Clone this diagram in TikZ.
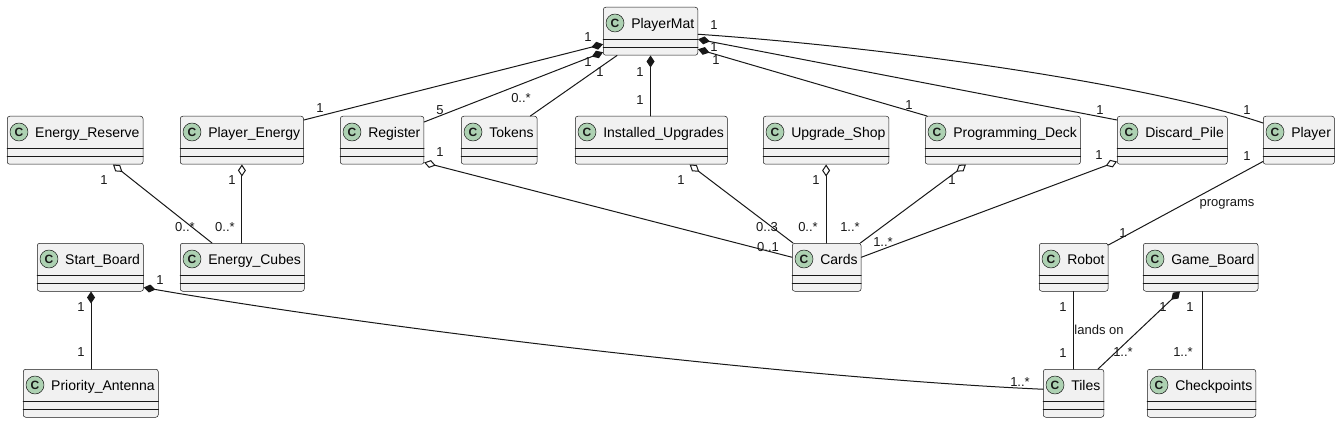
\documentclass[tikz,border=0pt]{standalone}
\usepackage{fontspec}
\setmainfont{Liberation Sans}
\usetikzlibrary{arrows.meta}
\definecolor{uququq}{rgb}{0.094,0.094,0.094}
\definecolor{wfwfwf}{rgb}{0.945,0.945,0.945}
\definecolor{aqdqbq}{rgb}{0.678,0.82,0.698}
\begin{document}
\begin{tikzpicture}[line cap=round,line join=round,x=1pt,y=-1pt,
	cls/.style={draw=uququq,line width=0.5pt,fill=wfwfwf,rounded corners=2.5pt,anchor=north west,
		inner xsep=0pt,inner ysep=0pt,text height=21pt,text depth=27pt,font=\fontsize{14}{16}\selectfont,
		execute at begin node={\hspace*{28pt}},execute at end node={\hspace*{3.5pt}}},
	cmp/.style={draw=uququq,line width=0.5pt},
	badge/.style={circle,draw=uququq,line width=0.5pt,fill=aqdqbq,minimum size=18pt,inner sep=0pt,
		text=uququq,font=\fontsize{12}{12}\bfseries\selectfont},
	assoc/.style={draw=uququq,line width=1pt},
	comp/.style={assoc,{Diamond[fill=uququq,length=12pt,width=8pt]}-},
	aggr/.style={assoc,{Diamond[fill=white,length=12pt,width=8pt]}-},
	mult/.style={inner sep=0pt,text=uququq,font=\fontsize{13}{13}\selectfont}]
\path[use as bounding box,fill=white] (0,0) rectangle (1341,422);
\node[cls] (pm) at (603,7) {PlayerMat};
\node[cls] (ereserve) at (7,116) {Energy\_Reserve};
\node[cls] (penergy) at (180,116) {Player\_Energy};
\node[cls] (register) at (340,116) {Register};
\node[cls] (tokens) at (461,116) {Tokens};
\node[cls] (iupgrades) at (575,116) {Installed\_Upgrades};
\node[cls] (ushop) at (763,116) {Upgrade\_Shop};
\node[cls] (pdeck) at (925,116) {Programming\_Deck};
\node[cls] (dpile) at (1117,116) {Discard\_Pile};
\node[cls] (player) at (1263,116) {Player};
\node[cls] (sboard) at (37,243) {Start\_Board};
\node[cls] (ecubes) at (180,243) {Energy\_Cubes};
\node[cls] (cards) at (792,243) {Cards};
\node[cls] (robot) at (1039,243) {Robot};
\node[cls] (gboard) at (1143,243) {Game\_Board};
\node[cls] (pantenna) at (23,369) {Priority\_Antenna};
\node[cls] (tiles) at (1043,369) {Tiles};
\node[cls] (checkpoints) at (1147,369) {Checkpoints};
\foreach \n in {pm,ereserve,penergy,register,tokens,iupgrades,ushop,pdeck,dpile,player,
	sboard,ecubes,cards,robot,gboard,pantenna,tiles,checkpoints} {
	\draw[cmp] ([yshift=-32pt]\n.north west) -- ([yshift=-32pt]\n.north east);
	\draw[cmp] ([yshift=-40pt]\n.north west) -- ([yshift=-40pt]\n.north east);
	\node[badge] (c-\n) at ([xshift=12pt,yshift=-16pt]\n.north west) {C};
}
\draw[comp] ([yshift=-13pt]pm.west) -- ([yshift=-4pt]penergy.north east);
\draw[comp] ([yshift=-21pt]pm.west) -- ([yshift=-6pt]register.north east);
\draw[assoc] ([xshift=14pt]pm.south west) -- ([xshift=-7pt]tokens.north east);
\draw[comp] (pm.south) -- (pm.south |- iupgrades.north);
\draw[assoc] ([yshift=-3pt]pm.east) .. controls +(202,14) and +(-113,-38) .. ([yshift=-7pt]player.north west);
\draw[comp] ([yshift=-8pt]pm.east) -- ([yshift=-4pt]dpile.north west);
\draw[comp] ([yshift=-18pt]pm.east) -- ([xshift=2pt]pdeck.north west);
\draw[aggr] ([xshift=106pt]ereserve.south west) -- ([xshift=32pt]ecubes.north west);
\draw[aggr] (penergy.south) -- (penergy.south |- ecubes.north);
\draw[aggr] ([yshift=2pt]register.south east) -- ([yshift=10pt]cards.west);
\draw[aggr] ([xshift=-38pt]iupgrades.south east) -- ([xshift=1pt]cards.north west);
\draw[aggr] (ushop.south) -- (ushop.south |- cards.north);
\draw[aggr] ([xshift=41pt]pdeck.south west) -- ([xshift=-1pt]cards.north east);
\draw[aggr] ([yshift=3pt]dpile.south west) -- ([yshift=10pt]cards.east);
\draw[assoc] ([yshift=3pt]player.south west) -- ([yshift=-2pt]robot.north east);
\draw[assoc] ([xshift=34pt]robot.south west) -- ([xshift=30pt]tiles.north west);
\draw[comp] ([xshift=37pt]gboard.south west) -- ([xshift=-6pt]tiles.north east);
\draw[assoc] ([xshift=59pt]gboard.south west) -- ([xshift=55pt]checkpoints.north west);
\draw[comp] ([xshift=54pt]sboard.south west) -- ([xshift=68pt]pantenna.north west);
\draw[comp] ([yshift=4pt]sboard.south east) .. controls +(255,44) and +(-243,-11) .. ([yshift=4pt]tiles.west);
\foreach \x/\y/\t [count=\i] in {588/37/1,588/62/1,600/72/1,640/72/1,640/100/1,714/25/1,714/47/1,716/60/1,
	320/108/1,440/110/5,521/98/{0..*},440/152/1,909/105/1,1100/110/1,1247/110/1,1099/155/1,1247/156/1,952/180/1,
	104/180/1,185/227/{0..*},232/180/1,225/227/{0..*},681/180/1,767/227/{0..3},816/180/1,808/227/{0..*},
	850/227/{1..*},768/247/{0..1},883/242/{1..*},1123/233/1,160/280/1,81/307/1,81/352/1,1063/307/1,1063/353/1,
	1163/307/1,1123/352/{1..*},1190/307/1,1183/352/{1..*},1020/382/{1..*}}
	\node[mult] (m\i) at (\x,\y) {\t};
\node[mult] (programs) at (1227,204) {programs};
\node[mult] (landson) at (1099,330) {lands on};
\end{tikzpicture}
\end{document}
